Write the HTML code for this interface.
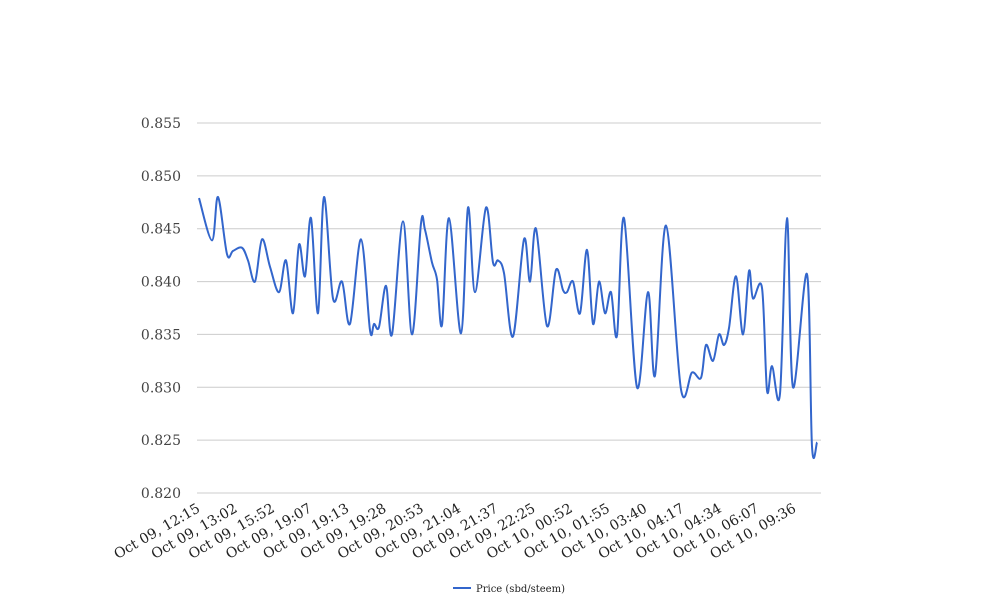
<!DOCTYPE html>
<html><head><meta charset="utf-8"><style>
body{margin:0;background:#fff;}
svg{display:block;font-family:"DejaVu Serif","Liberation Serif",serif;}
</style></head><body>
<svg id="chart" width="1008" height="616" viewBox="0 0 1008 616" xmlns="http://www.w3.org/2000/svg">
<g id="grid"></g>
<g id="yaxis"></g>
<g id="xaxis"></g>
<path id="line" fill="none" stroke="#3366cc" stroke-width="2"/>
<g>
<line x1="453" y1="588" x2="471" y2="588" stroke="#3366cc" stroke-width="2"/>
<text x="476" y="592" font-size="10" fill="#222">Price (sbd/steem)</text>
</g>
</svg>
<script>
const sampleIdx=[0,6.5,9.5,14,17,21.5,24.5,28,31.5,35.5,40,43.5,47,50,53,56,59.5,62.5,67,71.5,75.5,81,85.5,87.5,90,93.5,96.5,102,106.5,111,113,116.5,119,121.5,125,131,134.5,138,143.5,147,149.5,152.5,157,162.5,165.5,168.5,174,178.5,182,184,187,190.5,194,197,200,203,206,209,212.5,219,224.5,228,233.5,241,246.5,251,253.5,257,260,262.5,265,268.5,272,275,277,281.5,284,286.5,290.5,294,297,304,306.5,309];
const prices=[0.8479,0.8439,0.848,0.8426,0.8429,0.8432,0.842,0.840,0.844,0.8414,0.839,0.842,0.837,0.8435,0.8405,0.846,0.837,0.848,0.8384,0.840,0.836,0.844,0.8354,0.836,0.8357,0.8396,0.835,0.8457,0.835,0.8455,0.8449,0.8418,0.8402,0.8359,0.846,0.8351,0.847,0.839,0.847,0.8418,0.842,0.8408,0.8348,0.844,0.840,0.845,0.8358,0.8411,0.8392,0.839,0.840,0.837,0.843,0.836,0.840,0.837,0.839,0.8349,0.846,0.830,0.839,0.8311,0.8453,0.8298,0.8314,0.8309,0.834,0.8325,0.835,0.834,0.8356,0.8405,0.835,0.841,0.8384,0.8394,0.8297,0.832,0.8294,0.846,0.830,0.8407,0.8244,0.8248,0.8248];
const yTicks=[0.820,0.825,0.830,0.835,0.840,0.845,0.850,0.855];
const xLabels=["Oct 09, 12:15","Oct 09, 13:02","Oct 09, 15:52","Oct 09, 19:07","Oct 09, 19:13","Oct 09, 19:28","Oct 09, 20:53","Oct 09, 21:04","Oct 09, 21:37","Oct 09, 22:25","Oct 10, 00:52","Oct 10, 01:55","Oct 10, 03:40","Oct 10, 04:17","Oct 10, 04:34","Oct 10, 06:07","Oct 10, 09:36"];
const NS="http://www.w3.org/2000/svg";
const X0=199,X1=817,Y0=493,Y1=123;
const maxIdx=309;
function xs(i){return X0+(X1-X0)*i/maxIdx;}
function ys(v){return Y0-(v-0.820)/(0.855-0.820)*(Y0-Y1);}
const grid=document.getElementById('grid'),ya=document.getElementById('yaxis'),xa=document.getElementById('xaxis');
yTicks.forEach(t=>{
 const l=document.createElementNS(NS,'line');
 
 
 l.setAttribute('x1',197);l.setAttribute('x2',821);l.setAttribute('y1',ys(t));l.setAttribute('y2',ys(t));
 l.setAttribute('stroke','#cccccc');l.setAttribute('stroke-width','1');
 grid.appendChild(l);
 const tx=document.createElementNS(NS,'text');
 
 
 tx.setAttribute('x',181);tx.setAttribute('y',ys(t)+5);tx.setAttribute('text-anchor','end');
 tx.setAttribute('font-size','14');tx.setAttribute('fill','#444');
 tx.textContent=t.toFixed(3);ya.appendChild(tx);
});
xLabels.forEach((s,i)=>{
 const x=201+i*(797-201)/(xLabels.length-1);
 const tx=document.createElementNS(NS,'text');
 
 
 tx.setAttribute('text-anchor','end');tx.setAttribute('font-size','14');tx.setAttribute('fill','#222');
 tx.setAttribute('transform','translate('+x+',511) rotate(-30)');
 tx.textContent=s;xa.appendChild(tx);
});
const P=sampleIdx.map((t,i)=>[xs(t),ys(prices[i])]);
let d='M'+P[0][0]+','+P[0][1];
for(let i=0;i<P.length-1;i++){
 const p0=P[Math.max(0,i-1)],p1=P[i],p2=P[i+1],p3=P[Math.min(P.length-1,i+2)];
 const k=1/6;
 d+=' C'+(p1[0]+(p2[0]-p0[0])*k)+','+(p1[1]+(p2[1]-p0[1])*k)+' '+(p2[0]-(p3[0]-p1[0])*k)+','+(p2[1]-(p3[1]-p1[1])*k)+' '+p2[0]+','+p2[1];
}
document.getElementById('line').setAttribute('d',d);
</script>
</body></html>
